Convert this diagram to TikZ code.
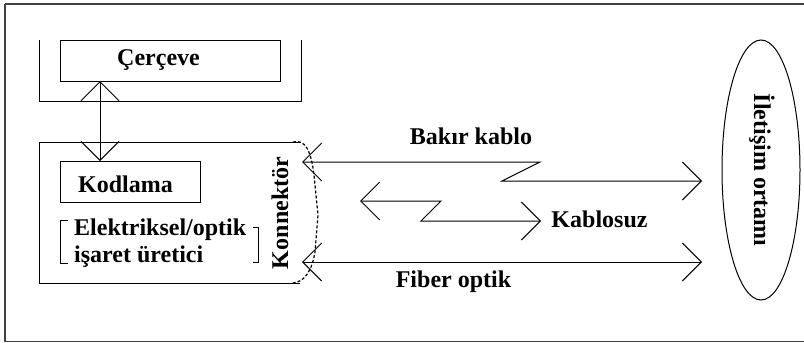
\documentclass[tikz,border=0pt]{standalone}
\usepackage{fontspec}
\setmainfont{Liberation Serif}
\usetikzlibrary{arrows.meta,shapes.geometric}
\begin{document}
\begin{tikzpicture}[x=1pt,y=-1pt,
  ln/.style={line width=1pt},
  lbl/.style={font=\fontsize{24}{26}\selectfont\bfseries, inner sep=0pt, anchor=base},
  box/.style={draw, line width=1pt, inner sep=0pt},
  dbarb/.style={line width=1pt, {Straight Barb[length=19pt,width=38pt,line width=1pt]}-{Straight Barb[length=19pt,width=38pt,line width=1pt]}},
  conn/.style={line width=1.2pt, dash pattern=on 3pt off 2pt}]
\useasboundingbox (0,0) rectangle (804,343);
\draw[line width=1.5pt, black!75] (5,4) -- (808,4) (5,4) -- (5,341.5) -- (808,341.5);

% frame (U shape) and Cerceve box
\draw[ln] (39,40) -- (39,101) -- (301,101) -- (301,40);
\node[box, minimum width=220pt, minimum height=41pt] (cerceve) at (170,60.5) {};
\node[lbl] (tcerceve) at (158.5,65) {Çerçeve};

% main box
\draw[ln] (300,142) -- (39,142) -- (39,283) -- (300,283);
\node[box, minimum width=140pt, minimum height=41pt] (kodlama) at (130,181.5) {};
\node[lbl] (tkodlama) at (125.5,192) {Kodlama};

% vertical double arrow
\coordinate (va) at (100,81);
\coordinate (vb) at (100,161);
\draw[dbarb] (va) -- (vb);

% bracketed generator text
\draw[ln] (68,220) -- (60,220) -- (60,263) -- (68,263);
\draw[ln] (253,227) -- (258,227) -- (258,262) -- (253,262);
\node[lbl, anchor=base west] (tel1) at (74,235) {Elektriksel/optik};
\node[lbl, anchor=base west] (tel2) at (74,262) {işaret üretici};

% connector
\draw[conn] (293,142) .. controls (305,139) and (311,150) .. (314,175) -- (318,215) -- (315,252) .. controls (312,270) and (305,282) .. (293,283);
\node[lbl, rotate=90] (tkon) at (288,213) {Konnektör};

% medium
\node[draw, ellipse, line width=1pt, minimum width=78pt, minimum height=260pt, inner sep=0pt] (medium) at (761,170) {};
\node[lbl, rotate=-90] (tmed) at (754,170) {İletişim ortamı};

% Bakir kablo
\coordinate (b1) at (302,162);
\coordinate (b2) at (540,162);
\coordinate (b3) at (502,181);
\coordinate (b4) at (702,181);
\draw[dbarb] (b1) -- (b2) -- (b3) -- (b4);
\node[lbl] (tbakir) at (471,144) {Bakır kablo};

% Kablosuz
\coordinate (k1) at (360,201);
\coordinate (k2) at (441,201);
\coordinate (k3) at (421,221);
\coordinate (k4) at (541,221);
\draw[dbarb] (k1) -- (k2) -- (k3) -- (k4);
\node[lbl] (tkablosuz) at (599.5,227) {Kablosuz};

% Fiber optik
\coordinate (f1) at (302,262);
\coordinate (f2) at (702,262);
\draw[dbarb] (f1) -- (f2);
\node[lbl] (tfiber) at (453.5,287) {Fiber optik};
\end{tikzpicture}
\end{document}
